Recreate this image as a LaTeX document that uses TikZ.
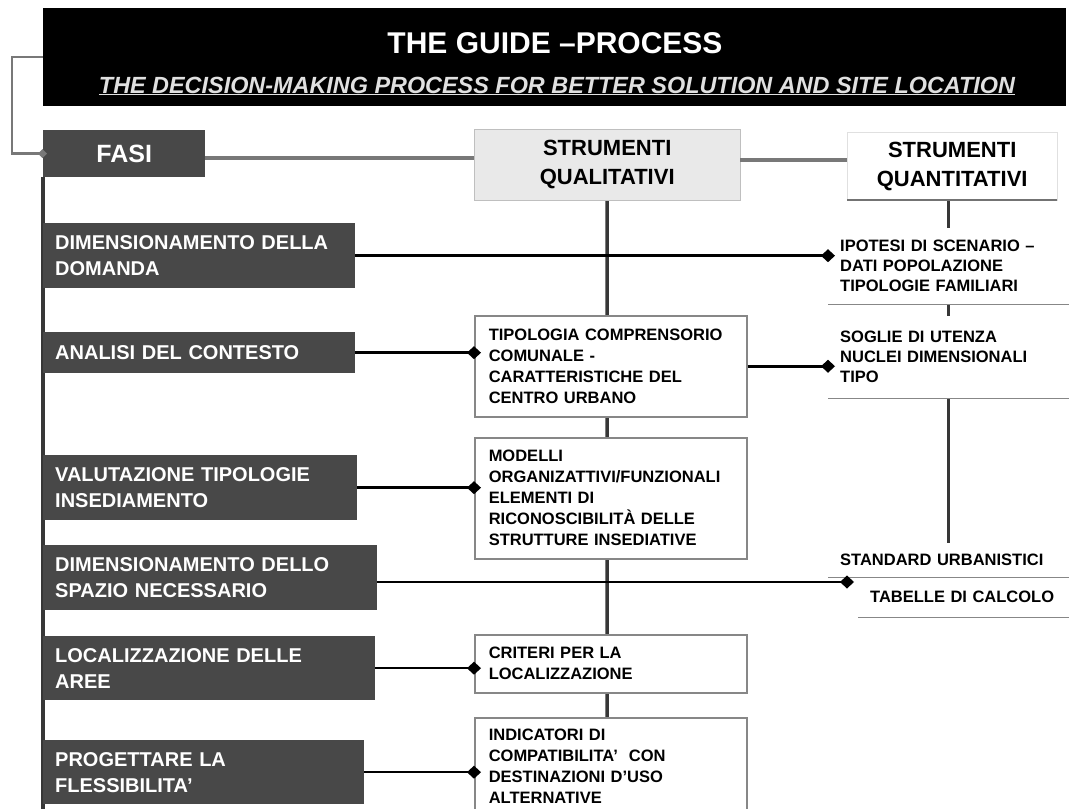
\documentclass[tikz,border=0pt]{standalone}
\usepackage{fontspec}
\setmainfont{Liberation Sans}
\usetikzlibrary{positioning,arrows.meta,backgrounds}
\definecolor{fasecolor}{RGB}{72,72,72}
\definecolor{qualcolor}{RGB}{233,233,233}
\definecolor{bordocolor}{RGB}{135,135,135}
\definecolor{lineacolor}{RGB}{55,55,55}
\definecolor{grigiocolor}{RGB}{120,120,120}

\begin{document}
\begin{tikzpicture}[x=1pt, y=-1pt,
  fase/.style={fill=fasecolor, text=white, anchor=north west, align=left,
               inner xsep=12pt, text width=#1,
               font=\fontsize{20}{26}\selectfont\bfseries},
  qual/.style={draw=bordocolor, line width=1.5pt, fill=white, anchor=north west,
               align=left, inner xsep=14pt, text width=244pt,
               font=\fontsize{16.5}{21}\selectfont\bfseries},
  quant/.style={anchor=north west, align=left, inner xsep=12pt, text width=#1,
                font=\fontsize{16.5}{20}\selectfont\bfseries},
  head/.style={anchor=north west, align=center,
               font=\fontsize{22}{29}\selectfont\bfseries},
  link/.style={line width=2.5pt, -{Diamond[length=14pt,width=13pt]}, shorten >=-7pt},
  spine/.style={line width=3.5pt, lineacolor},
  sep/.style={line width=1.5pt, bordocolor}]

  \useasboundingbox (0,0) rectangle (1069,809);

  \node[fill=black, anchor=north west, minimum width=1023pt, minimum height=98pt,
        inner sep=0pt] (testata) at (43,8) {};
  \node[text=white, font=\fontsize{30}{30}\selectfont\bfseries] (titolo) at (555,43)
       {THE GUIDE –PROCESS};
  \node[text=black!12, font=\fontsize{23.4}{23.4}\selectfont\bfseries\itshape] (sottotitolo) at (557,86)
       {\underline{THE DECISION-MAKING PROCESS FOR BETTER SOLUTION AND SITE LOCATION}};

  \node[fill=fasecolor, text=white, anchor=north west, minimum width=162pt,
        minimum height=47pt, font=\fontsize{25}{25}\selectfont\bfseries] (fasi) at (43,130) {FASI};
  \node[head, fill=qualcolor, draw=black!25, minimum width=266pt, minimum height=71pt] (qualhead)
       at (474,129) {STRUMENTI\\QUALITATIVI};
  \node[head, fill=white, draw=black!12, minimum width=210pt, minimum height=68pt] (quanthead)
       at (847,132) {STRUMENTI\\QUANTITATIVI};

  \node[fase=288pt, minimum height=65pt] (domanda)     at (43,223) {DIMENSIONAMENTO DELLA\\DOMANDA};
  \node[fase=288pt, minimum height=41pt] (analisi)     at (43,332) {ANALISI DEL CONTESTO};
  \node[fase=290pt, minimum height=65pt] (valutazione) at (43,455) {VALUTAZIONE TIPOLOGIE\\INSEDIAMENTO};
  \node[fase=310pt, minimum height=65pt] (spazio)      at (43,545) {DIMENSIONAMENTO DELLO\\SPAZIO NECESSARIO};
  \node[fase=308pt, minimum height=64pt] (aree)        at (43,636) {LOCALIZZAZIONE DELLE\\AREE};
  \node[fase=297pt, minimum height=64pt] (flessibilita) at (43,740) {PROGETTARE LA\\FLESSIBILITA'};

  \node[qual, minimum height=101pt] (tipologia)  at (474,315)
       {TIPOLOGIA COMPRENSORIO\\COMUNALE -\\CARATTERISTICHE DEL\\CENTRO URBANO};
  \node[qual, minimum height=121pt] (modelli)    at (474,437)
       {MODELLI\\ORGANIZATTIVI/FUNZIONALI\\ELEMENTI DI\\RICONOSCIBILITÀ DELLE\\STRUTTURE INSEDIATIVE};
  \node[qual, minimum height=58pt]  (criteri)    at (474,634) {CRITERI PER LA\\LOCALIZZAZIONE};
  \node[qual, minimum height=96pt]  (indicatori) at (474,717)
       {INDICATORI DI\\COMPATIBILITA'~ CON\\DESTINAZIONI D'USO\\ALTERNATIVE};

  \node[quant=217pt, minimum height=76pt] (ipotesi) at (828,228)
       {IPOTESI DI SCENARIO –\\DATI POPOLAZIONE\\TIPOLOGIE FAMILIARI};
  \node[quant=217pt, minimum height=82pt] (soglie)  at (828,316)
       {SOGLIE DI UTENZA\\NUCLEI DIMENSIONALI\\TIPO};
  \node[quant=217pt, minimum height=34pt] (standard) at (828,543) {STANDARD URBANISTICI};
  \node[quant=187pt, minimum height=40pt] (tabelle)  at (858,577) {TABELLE DI CALCOLO};

  \coordinate (sinistra) at (43,809);
  \coordinate (centro)   at (607,809);
  \coordinate (stdend)   at (847,582);

  \begin{scope}[on background layer]
    \draw[spine] (fasi.south west) -- (sinistra);
    \draw[spine] (qualhead.south) -- (centro);
    \draw[spine] (quanthead.south -| ipotesi.north) -- (ipotesi.north);
    \draw[spine] (ipotesi.south) -- (soglie.north);
    \draw[spine] (soglie.south) -- (standard.north);
  \end{scope}

  \draw[sep, black!55, line width=2pt] (quanthead.south west) -- (quanthead.south east);
  \draw[sep] (ipotesi.south west) -- (ipotesi.south east);
  \draw[sep] (soglie.south west) -- (soglie.south east);
  \draw[sep] (standard.south west) -- (standard.south east);
  \draw[sep] (tabelle.south west) -- (tabelle.south east);

  \draw[line width=2.5pt, grigiocolor, -{Diamond[length=9pt,width=9pt]}, shorten >=-4pt]
       (testata.west) -- ++(-31,0) |- (fasi.west);
  \draw[line width=3.5pt, grigiocolor] ([yshift=-4.5pt]fasi.east) -- ([yshift=-4.5pt]fasi.east -| qualhead.west);
  \draw[line width=3.5pt, grigiocolor] ([yshift=4.5pt]qualhead.east) -- ([yshift=4.5pt]qualhead.east -| quanthead.west);

  \draw[link] (domanda.east) -- (domanda.east -| ipotesi.west);
  \draw[link] (analisi.east) -- (analisi.east -| tipologia.west);
  \draw[link] (tipologia.east) -- (tipologia.east -| soglie.west);
  \draw[link] (valutazione.east) -- (valutazione.east -| modelli.west);
  \draw[link] (spazio.east |- stdend) -- (stdend);
  \draw[link] (aree.east) -- (aree.east -| criteri.west);
  \draw[link] (flessibilita.east) -- (flessibilita.east -| indicatori.west);
\end{tikzpicture}
\end{document}
